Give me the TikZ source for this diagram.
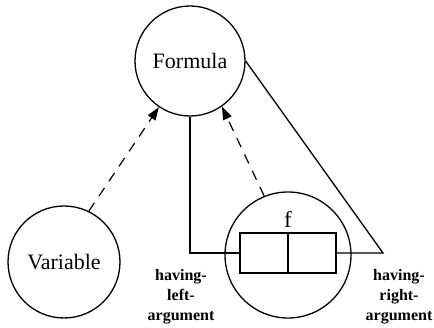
\documentclass[tikz,border=0pt]{standalone}
\usepackage{fontspec}
\setmainfont{Liberation Serif}
\usetikzlibrary{arrows.meta}
\tikzset{
    concept/.style={draw,circle,line width=1.3pt,inner sep=0pt},
    slotbox/.style={draw,line width=1.3pt,minimum width=48pt,minimum height=40pt,inner sep=0pt},
    rolelabel/.style={font=\bfseries\fontsize{16}{20}\selectfont,align=center},
    isa/.style={line width=1.2pt,dash pattern=on 10pt off 8pt,-{Triangle[length=13pt,width=9pt]}}
}
\begin{document}
\begin{tikzpicture}[x=1pt,y=-1pt,line width=1.3pt]
        \useasboundingbox (0,0) rectangle (434,328);

        \node[concept,minimum size=110pt,font=\fontsize{22}{26}\selectfont] (formula) at (190,61) {Formula};
        \node[concept,minimum size=112pt,font=\fontsize{22}{26}\selectfont] (variable) at (64,262) {Variable};
        \node[concept,minimum size=126pt] (fterm) at (288,255) {};

        % argomenti
        \node[slotbox] (leftslot) at (264,253) {};
        \node[slotbox] (rightslot) at (312,253) {};
        \node[font=\fontsize{23}{26}\selectfont] (fname) at (288,219) {f};

        \coordinate (rcorner) at (383,253);
        \draw (formula.south) |- (leftslot.west);
        \draw (rightslot.east) -- (rcorner) -- (formula.east);

        % is-a
        \draw[isa] (variable.64) -- (formula.-124);
        \draw[isa] (fterm.112) -- (formula.-55);

        \node[rolelabel] (leftrole) at (181,297) {having-\\left-\\argument};
        \node[rolelabel] (rightrole) at (399,297) {having-\\right-\\argument};
    \end{tikzpicture}
\end{document}
